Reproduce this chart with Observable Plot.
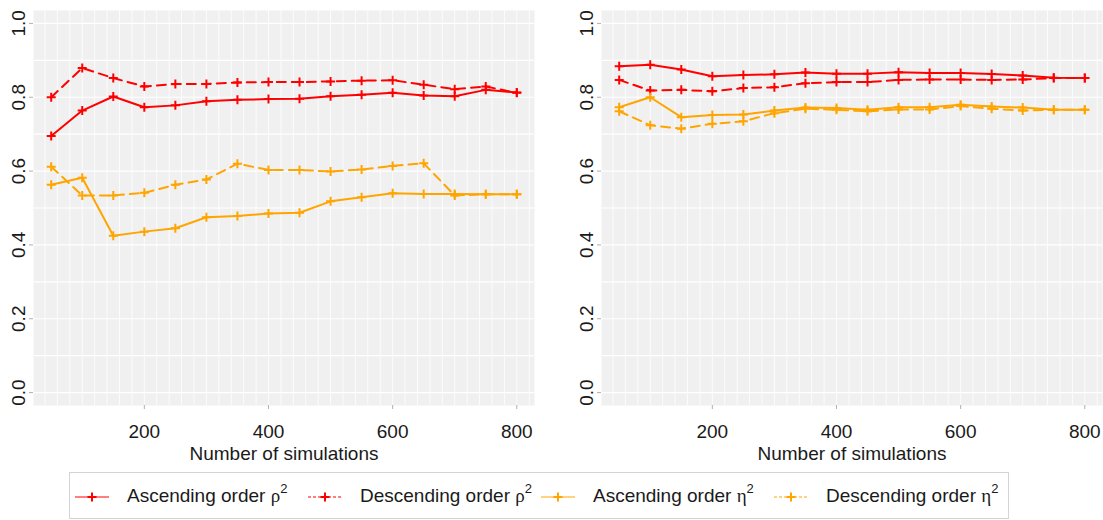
<!DOCTYPE html>
<html>
<head>
<meta charset="utf-8">
<script src="https://cdn.jsdelivr.net/npm/d3@7"></script>
<script src="https://cdn.jsdelivr.net/npm/@observablehq/plot@0.6"></script>
<style>
  html, body { margin: 0; padding: 0; background: #fff; }
  #wrap { position: relative; width: 1103px; height: 520px; overflow: hidden; font-family: "Liberation Sans", Arial, sans-serif; }
  .panel { position: absolute; top: 0; }
  #legend { position: absolute; left: 69px; top: 472px; width: 938px; height: 45px; border: 1.5px solid #d4d4d4; background: #fff; }
  .item { position: absolute; top: 0; height: 45px; }
  .item svg { position: absolute; top: 16px; left: 0; }
  .item span { position: absolute; left: 52px; top: 10px; white-space: nowrap; font-size: 19px; color: #1a1a1a; }
  .greek { font-family: "Liberation Serif", "DejaVu Serif", serif; }
  sup { font-size: 13px; position: relative; top: -2px; }
</style>
</head>
<body>
<div id="wrap">
  <div class="panel" id="left" style="left:0px"></div>
  <div class="panel" id="right" style="left:551px"></div>
  <div id="legend"></div>
</div>
<script>
// ---- data ----
const xValues = [50, 100, 150, 200, 250, 300, 350, 400, 450, 500, 550, 600, 650, 700, 750, 800];

const leftAscRho  = [0.695, 0.764, 0.802, 0.773, 0.778, 0.789, 0.793, 0.795, 0.796, 0.803, 0.807, 0.812, 0.805, 0.803, 0.820, 0.813];
const leftDescRho = [0.800, 0.879, 0.852, 0.829, 0.836, 0.836, 0.840, 0.841, 0.841, 0.843, 0.845, 0.846, 0.834, 0.822, 0.829, 0.812];
const leftAscEta  = [0.563, 0.582, 0.425, 0.436, 0.445, 0.475, 0.478, 0.485, 0.487, 0.518, 0.529, 0.540, 0.538, 0.538, 0.537, 0.537];
const leftDescEta = [0.612, 0.534, 0.534, 0.541, 0.563, 0.577, 0.620, 0.603, 0.603, 0.599, 0.604, 0.614, 0.621, 0.534, 0.537, 0.537];

const rightAscRho  = [0.884, 0.888, 0.875, 0.857, 0.860, 0.862, 0.867, 0.864, 0.864, 0.868, 0.866, 0.866, 0.863, 0.859, 0.853, 0.852];
const rightDescRho = [0.847, 0.818, 0.820, 0.816, 0.825, 0.827, 0.838, 0.841, 0.841, 0.847, 0.848, 0.848, 0.847, 0.848, 0.852, 0.852];
const rightAscEta  = [0.773, 0.800, 0.746, 0.752, 0.753, 0.764, 0.772, 0.771, 0.766, 0.773, 0.773, 0.780, 0.775, 0.772, 0.766, 0.766];
const rightDescEta = [0.762, 0.724, 0.715, 0.728, 0.735, 0.757, 0.769, 0.766, 0.762, 0.767, 0.767, 0.776, 0.769, 0.764, 0.766, 0.766];

const seriesNames = ["Ascending order ρ2", "Descending order ρ2", "Ascending order η2", "Descending order η2"];
const seriesLabelsBase = ["Ascending order ", "Descending order ", "Ascending order ", "Descending order "];
const seriesGreek = ["ρ", "ρ", "η", "η"];
const seriesColors = ["#FF0000", "#FF0000", "#FFA500", "#FFA500"];
const seriesDashed = [false, true, false, true];

const xTicks = [200, 400, 600, 800];
const yTicks = [0, 0.2, 0.4, 0.6, 0.8, 1.0];
const yTickLabels = ["0.0", "0.2", "0.4", "0.6", "0.8", "1.0"];
const axisTitle = "Number of simulations";

// ---- helpers ----
const plusSymbol = {
  draw(ctx, size) {
    const r = Math.sqrt(size / Math.PI);
    ctx.moveTo(-r, 0); ctx.lineTo(r, 0);
    ctx.moveTo(0, -r); ctx.lineTo(0, r);
  }
};

const gridX = d3.range(40, 821, 20);
const gridY = d3.range(0, 1.01, 0.1);

function toRows(values) {
  return xValues.map((x, i) => ({x, y: values[i]}));
}

function makePanel(seriesValues, width, marginLeft, marginRight) {
  const marks = [
    Plot.frame({fill: "#F0F0F0", stroke: "none"}),
    Plot.ruleX(gridX, {stroke: "#ffffff", strokeWidth: 0.8}),
    Plot.ruleY(gridY, {stroke: "#ffffff", strokeWidth: 1.1}),
    Plot.axisX({ticks: xTicks, tickSize: 4, tickPadding: 15, stroke: "#b0b0b0", fill: "#1a1a1a", fontSize: 19, label: null}),
    Plot.axisY({ticks: yTicks, tickSize: 4, tickFormat: () => "", stroke: "#b0b0b0", label: null}),
    Plot.text(yTicks, {y: d => d, text: (d, i) => yTickLabels[i], frameAnchor: "left", dx: -15, rotate: -90,
      textAnchor: "middle", lineAnchor: "middle", fill: "#1a1a1a", fontSize: 19}),
    Plot.text([axisTitle], {text: d => d, frameAnchor: "bottom", dy: 48, lineAnchor: "middle", fill: "#1a1a1a", fontSize: 19})
  ];
  seriesValues.forEach((vals, i) => {
    const rows = toRows(vals);
    marks.push(Plot.line(rows, {x: "x", y: "y", stroke: seriesColors[i], strokeWidth: 2,
      strokeDasharray: seriesDashed[i] ? "9,6" : null}));
    marks.push(Plot.dot(rows, {x: "x", y: "y", symbol: plusSymbol, r: 4.5, stroke: seriesColors[i], fill: "none", strokeWidth: 2}));
  });
  return Plot.plot({
    width, height: 465,
    marginLeft, marginRight, marginTop: 10, marginBottom: 60,
    style: {fontFamily: "Liberation Sans, Arial, sans-serif", fontSize: "19px", background: "transparent", overflow: "visible"},
    x: {domain: [21.5, 828.5], label: null},
    y: {domain: [-0.035, 1.035], label: null},
    marks
  });
}

document.getElementById("left").appendChild(
  makePanel([leftAscRho, leftDescRho, leftAscEta, leftDescEta], 551, 33, 17));
document.getElementById("right").appendChild(
  makePanel([rightAscRho, rightDescRho, rightAscEta, rightDescEta], 552, 50, 1));

// ---- legend ----
const legendLefts = [5, 238, 471, 704];
const legend = document.getElementById("legend");
seriesNames.forEach((name, i) => {
  const item = document.createElement("div");
  item.className = "item";
  item.style.left = legendLefts[i] + "px";
  const c = seriesColors[i];
  const dash = seriesDashed[i] ? 'stroke-dasharray="3,2"' : "";
  item.innerHTML =
    `<svg width="36" height="16" viewBox="0 0 36 16">
       <line x1="0" y1="8" x2="34" y2="8" stroke="${c}" stroke-width="1.2" ${dash}/>
       <path d="M12.5,8H21.5M17,3.5V12.5" stroke="${c}" stroke-width="2"/>
     </svg>
     <span>${seriesLabelsBase[i]}<span class="greek" style="position:static">${seriesGreek[i]}</span><sup>2</sup></span>`;
  legend.appendChild(item);
});
</script>
</body>
</html>
